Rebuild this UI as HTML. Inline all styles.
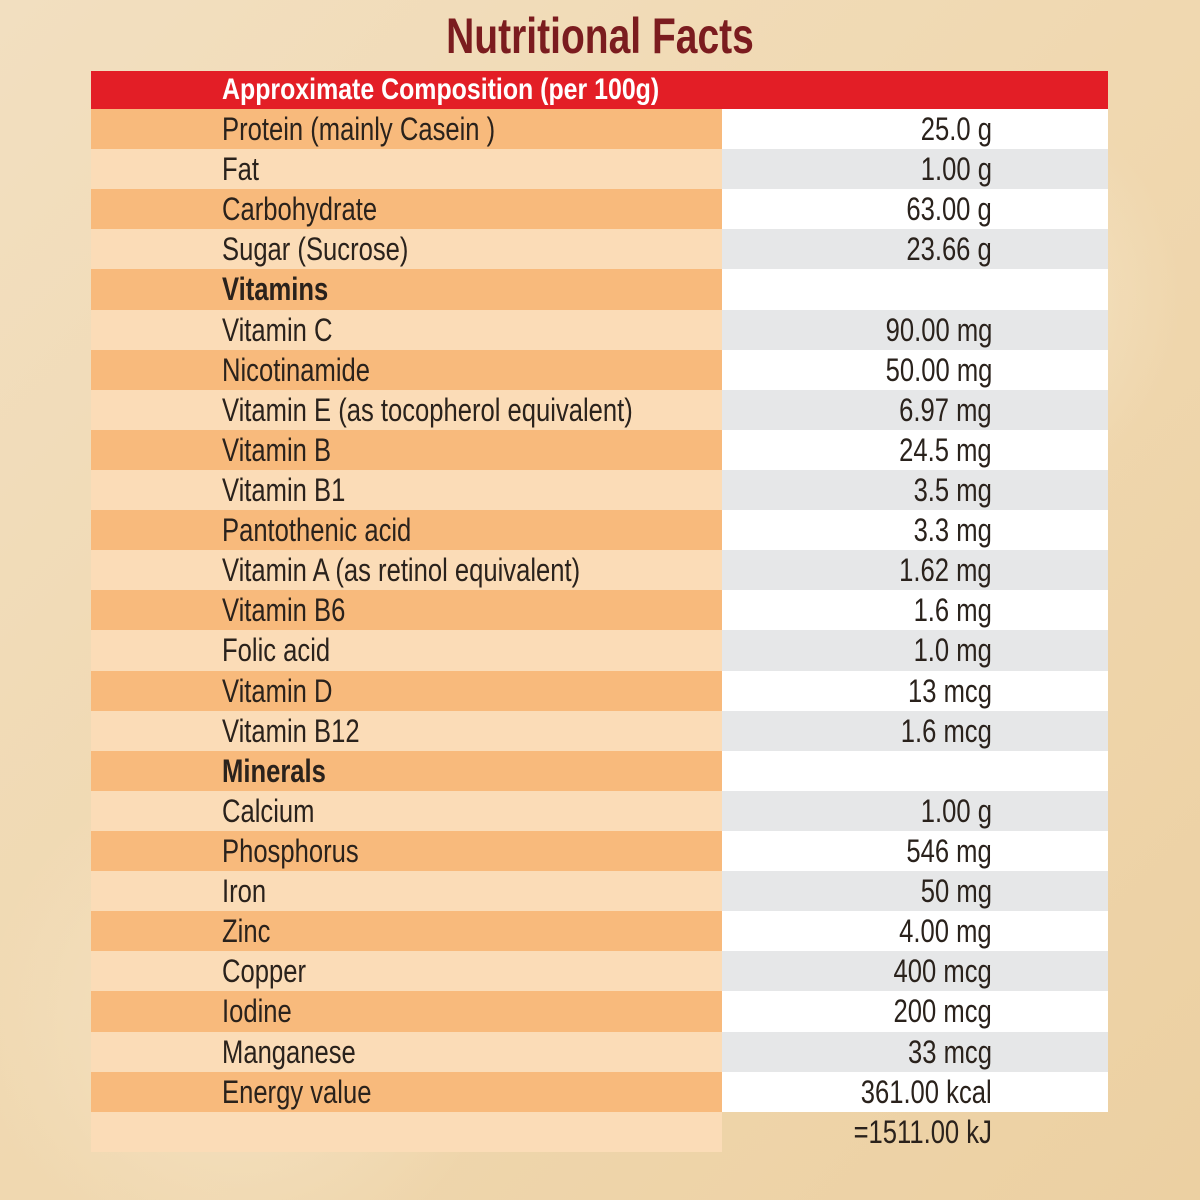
<!DOCTYPE html>
<html><head><meta charset="utf-8"><style>
body{margin:0;width:1200px;height:1200px;overflow:hidden;font-family:"Liberation Sans",sans-serif;
background:radial-gradient(circle at 80% 25%,#f6e6c8 0,rgba(246,230,200,0) 220px),radial-gradient(circle at 20% 85%,#f5e2c2 0,rgba(245,226,194,0) 260px),linear-gradient(135deg,#f2dfc0,#f0d8b0 50%,#ecd0a2);position:relative}
h1{position:absolute;left:0;width:1200px;top:7px;margin:0;text-align:center;font-size:50px;font-weight:bold;color:#7b1c1f;transform:scaleX(0.78)}
.t{position:absolute;left:91px;top:71px;width:1017px}
.hd{height:38px;background:#e31e26;color:#fff;font-weight:bold;font-size:30px;line-height:38px;padding-left:131px;box-sizing:border-box}
.r{display:flex;height:40.12px;font-size:32px;color:#2a221c;line-height:40px}
.l{width:631px;padding-left:131px;box-sizing:border-box;white-space:nowrap}
.v{width:386px;text-align:right;padding-right:116px;box-sizing:border-box;white-space:nowrap}
span{display:inline-block;transform:scaleX(0.8);transform-origin:left center}
.hd span{transform:scaleX(0.83)}
.v span{transform-origin:right center}
.r:nth-child(even) .l{background:#f8ba7c}
.r:nth-child(odd) .l{background:#fbdcb7}
.r:nth-child(even) .v{background:#fff}
.r:nth-child(odd) .v{background:#e6e7e8}
.r.last .v{background:transparent}
b{font-weight:bold}
</style></head><body>
<h1>Nutritional Facts</h1>
<div class="t">
<div class="hd"><span>Approximate Composition (per 100g)</span></div>
<div class="r"><div class="l"><span>Protein (mainly Casein )</span></div><div class="v"><span>25.0 g</span></div></div>
<div class="r"><div class="l"><span>Fat</span></div><div class="v"><span>1.00 g</span></div></div>
<div class="r"><div class="l"><span>Carbohydrate</span></div><div class="v"><span>63.00 g</span></div></div>
<div class="r"><div class="l"><span>Sugar (Sucrose)</span></div><div class="v"><span>23.66 g</span></div></div>
<div class="r"><div class="l"><span><b>Vitamins</b></span></div><div class="v"></div></div>
<div class="r"><div class="l"><span>Vitamin C</span></div><div class="v"><span>90.00 mg</span></div></div>
<div class="r"><div class="l"><span>Nicotinamide</span></div><div class="v"><span>50.00 mg</span></div></div>
<div class="r"><div class="l"><span>Vitamin E (as tocopherol equivalent)</span></div><div class="v"><span>6.97 mg</span></div></div>
<div class="r"><div class="l"><span>Vitamin B</span></div><div class="v"><span>24.5 mg</span></div></div>
<div class="r"><div class="l"><span>Vitamin B1</span></div><div class="v"><span>3.5 mg</span></div></div>
<div class="r"><div class="l"><span>Pantothenic acid</span></div><div class="v"><span>3.3 mg</span></div></div>
<div class="r"><div class="l"><span>Vitamin A (as retinol equivalent)</span></div><div class="v"><span>1.62 mg</span></div></div>
<div class="r"><div class="l"><span>Vitamin B6</span></div><div class="v"><span>1.6 mg</span></div></div>
<div class="r"><div class="l"><span>Folic acid</span></div><div class="v"><span>1.0 mg</span></div></div>
<div class="r"><div class="l"><span>Vitamin D</span></div><div class="v"><span>13 mcg</span></div></div>
<div class="r"><div class="l"><span>Vitamin B12</span></div><div class="v"><span>1.6 mcg</span></div></div>
<div class="r"><div class="l"><span><b>Minerals</b></span></div><div class="v"></div></div>
<div class="r"><div class="l"><span>Calcium</span></div><div class="v"><span>1.00 g</span></div></div>
<div class="r"><div class="l"><span>Phosphorus</span></div><div class="v"><span>546 mg</span></div></div>
<div class="r"><div class="l"><span>Iron</span></div><div class="v"><span>50 mg</span></div></div>
<div class="r"><div class="l"><span>Zinc</span></div><div class="v"><span>4.00 mg</span></div></div>
<div class="r"><div class="l"><span>Copper</span></div><div class="v"><span>400 mcg</span></div></div>
<div class="r"><div class="l"><span>Iodine</span></div><div class="v"><span>200 mcg</span></div></div>
<div class="r"><div class="l"><span>Manganese</span></div><div class="v"><span>33 mcg</span></div></div>
<div class="r"><div class="l"><span>Energy value</span></div><div class="v"><span>361.00 kcal</span></div></div>
<div class="r last"><div class="l"></div><div class="v"><span>=1511.00 kJ</span></div></div>
</div>
</body></html>
